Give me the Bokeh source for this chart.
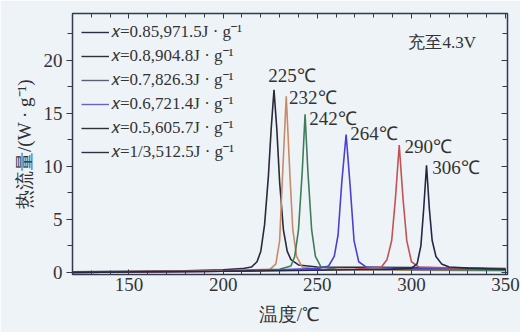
from bokeh.plotting import figure
from bokeh.models import (LinearAxis, SingleIntervalTicker, Legend, LegendItem, Range1d)
from bokeh.core.properties import value
from bokeh.embed import file_html
from bokeh.resources import INLINE

# ---- data ----
t_085 = [120, 180, 200, 210, 215, 218, 220, 222, 224, 225.5, 227, 228.5, 230, 232, 234, 236, 240, 250, 300, 350]
q_085 = [0.05, 0.15, 0.25, 0.35, 0.5, 1.0, 2.0, 4.5, 9.0, 13.5, 17.2, 13.5, 8.5, 4.0, 2.0, 1.2, 0.7, 0.5, 0.45, 0.35]

t_080 = [120, 200, 225, 228, 230, 231.5, 233.5, 235.5, 237, 239, 242, 250, 300, 350]
q_080 = [0.0, 0.15, 0.3, 0.8, 3.0, 9.0, 16.6, 9.0, 4.0, 1.5, 0.5, 0.3, 0.2, 0.15]

t_070 = [120, 200, 230, 236, 238, 240, 242, 243.5, 245, 247, 249, 252, 260, 350]
q_070 = [0.0, 0.1, 0.3, 0.6, 1.5, 4.0, 9.5, 14.9, 9.5, 4.0, 1.5, 0.5, 0.3, 0.2]

t_060 = [120, 200, 250, 256, 259, 261, 263, 265.3, 267.5, 269.5, 272, 276, 290, 350]
q_060 = [0.0, 0.1, 0.35, 0.6, 1.5, 3.5, 8.5, 13.0, 8.0, 3.0, 1.0, 0.5, 0.4, 0.3]

t_050 = [120, 200, 270, 284, 287, 289.5, 291.5, 293.5, 295.5, 297.5, 300, 304, 350]
q_050 = [0.0, 0.1, 0.3, 0.5, 1.2, 3.0, 7.0, 12.0, 7.0, 3.0, 1.0, 0.5, 0.3]

t_033 = [120, 200, 290, 300, 303, 305, 306.5, 308, 309.5, 311, 313, 316, 320, 330, 350]
q_033 = [0.0, 0.1, 0.3, 0.4, 0.8, 2.5, 6.0, 10.1, 6.0, 3.0, 1.5, 0.8, 0.5, 0.4, 0.3]

legend_labels = ["\U0001D465=0.85,971.5J · g\u207B\u00B9",
                 "\U0001D465=0.8,904.8J · g\u207B\u00B9",
                 "\U0001D465=0.7,826.3J · g\u207B\u00B9",
                 "\U0001D465=0.6,721.4J · g\u207B\u00B9",
                 "\U0001D465=0.5,605.7J · g\u207B\u00B9",
                 "\U0001D465=1/3,512.5J · g\u207B\u00B9"]

peak_labels = ["225℃", "232℃", "242℃", "264℃", "290℃", "306℃"]
peak_label_x = [224, 235, 245.7, 267.5, 296.3, 311]
peak_label_y = [18.6, 16.5, 14.5, 13.1, 11.9, 9.9]

note_text = ["充至4.3V"]
note_x = [298.4]
note_y = [21.7]

x_major_ticks = [150, 200, 250, 300, 350]
y_major_ticks = [0, 5, 10, 15, 20]

series_t = [t_085, t_080, t_070, t_060, t_050, t_033]
series_q = [q_085, q_080, q_070, q_060, q_050, q_033]
curve_colors = ["#2a2a38", "#c98a66", "#3f7d58", "#4a40d2", "#c45252", "#222846"]
legend_colors = ["#2a2d40", "#30303a", "#5a6070", "#6a60c0", "#303038", "#303040"]

BG = "#eef3f8"
FONT = "Liberation Serif"
AX = "#333a4a"

p = figure(width=520, height=332, output_backend="svg", toolbar_location=None,
           x_range=Range1d(120, 351), y_range=Range1d(-0.2, 24.4),
           min_border_left=72, min_border_right=13, min_border_top=13, min_border_bottom=58,
           x_axis_location=None, y_axis_location=None)
p.background_fill_color = BG
p.border_fill_color = BG
p.grid.visible = False
p.outline_line_color = AX
p.outline_line_width = 1.5

def make_x(loc, labels):
    ax = LinearAxis(ticker=SingleIntervalTicker(interval=50, num_minor_ticks=5))
    ax.major_tick_in = 5
    ax.major_tick_out = 0
    ax.minor_tick_in = 4
    ax.minor_tick_out = 0
    ax.axis_line_color = AX
    ax.major_tick_line_color = AX
    ax.minor_tick_line_color = AX
    if labels:
        ax.major_label_text_font = FONT
        ax.major_label_text_font_size = "19px"
        ax.major_label_text_color = "#333"
        ax.major_label_standoff = 3
        ax.axis_label = "温度/℃"
        ax.axis_label_text_font = FONT
        ax.axis_label_text_font_size = "19px"
        ax.axis_label_text_font_style = "normal"
        ax.axis_label_text_color = "#333"
        ax.axis_label_standoff = 10
    else:
        ax.major_label_overrides = {v: "" for v in x_major_ticks}
        ax.major_label_standoff = 0
    p.add_layout(ax, loc)

def make_y(loc, labels):
    ax = LinearAxis(ticker=SingleIntervalTicker(interval=5, num_minor_ticks=2))
    ax.axis_line_color = AX
    ax.major_tick_line_color = AX
    ax.minor_tick_line_color = AX
    if labels:
        ax.major_tick_in = 0
        ax.major_tick_out = 6
        ax.minor_tick_in = 0
        ax.minor_tick_out = 5
        ax.major_label_text_font = FONT
        ax.major_label_text_font_size = "19px"
        ax.major_label_text_color = "#333"
        ax.major_label_standoff = 4
        ax.axis_label = "热流量/(W · g\u207B\u00B9)"
        ax.axis_label_text_font = FONT
        ax.axis_label_text_font_size = "19px"
        ax.axis_label_text_font_style = "normal"
        ax.axis_label_text_color = "#333"
        ax.axis_label_standoff = 6
    else:
        ax.major_tick_in = 6
        ax.major_tick_out = 0
        ax.minor_tick_in = 5
        ax.minor_tick_out = 0
        ax.major_label_overrides = {v: "" for v in y_major_ticks}
        ax.major_label_standoff = 0
    p.add_layout(ax, loc)

make_x("below", True)
make_x("above", False)
make_y("left", True)
make_y("right", False)

# curves
for t, q, c in zip(series_t, series_q, curve_colors):
    p.line(t, q, line_color=c, line_width=1.6)

# legend: stand-in renderers carrying the legend colours (no visible data)
items = []
for lab, c in zip(legend_labels, legend_colors):
    r = p.line([float("nan"), float("nan")], [float("nan"), float("nan")], line_color=c, line_width=1.4)
    items.append(LegendItem(label=lab, renderers=[r]))
leg = Legend(items=items, location="top_left")
leg.background_fill_alpha = 0
leg.border_line_alpha = 0
leg.margin = 3
leg.padding = 6
leg.spacing = 4
leg.glyph_width = 28
leg.glyph_height = 20
leg.label_height = 20
leg.label_standoff = 2
leg.label_text_font = FONT
leg.label_text_font_size = "17px"
leg.label_text_color = "#333"
p.add_layout(leg)

p.text(peak_label_x, peak_label_y, text=peak_labels, text_font=value(FONT),
       text_font_size="19px", text_color="#333", text_baseline="alphabetic", text_align="left")
p.text(note_x, note_y, text=note_text, text_font=value(FONT),
       text_font_size="17px", text_color="#333", text_baseline="alphabetic", text_align="left")

open("out.html", "w").write(file_html(p, INLINE))
